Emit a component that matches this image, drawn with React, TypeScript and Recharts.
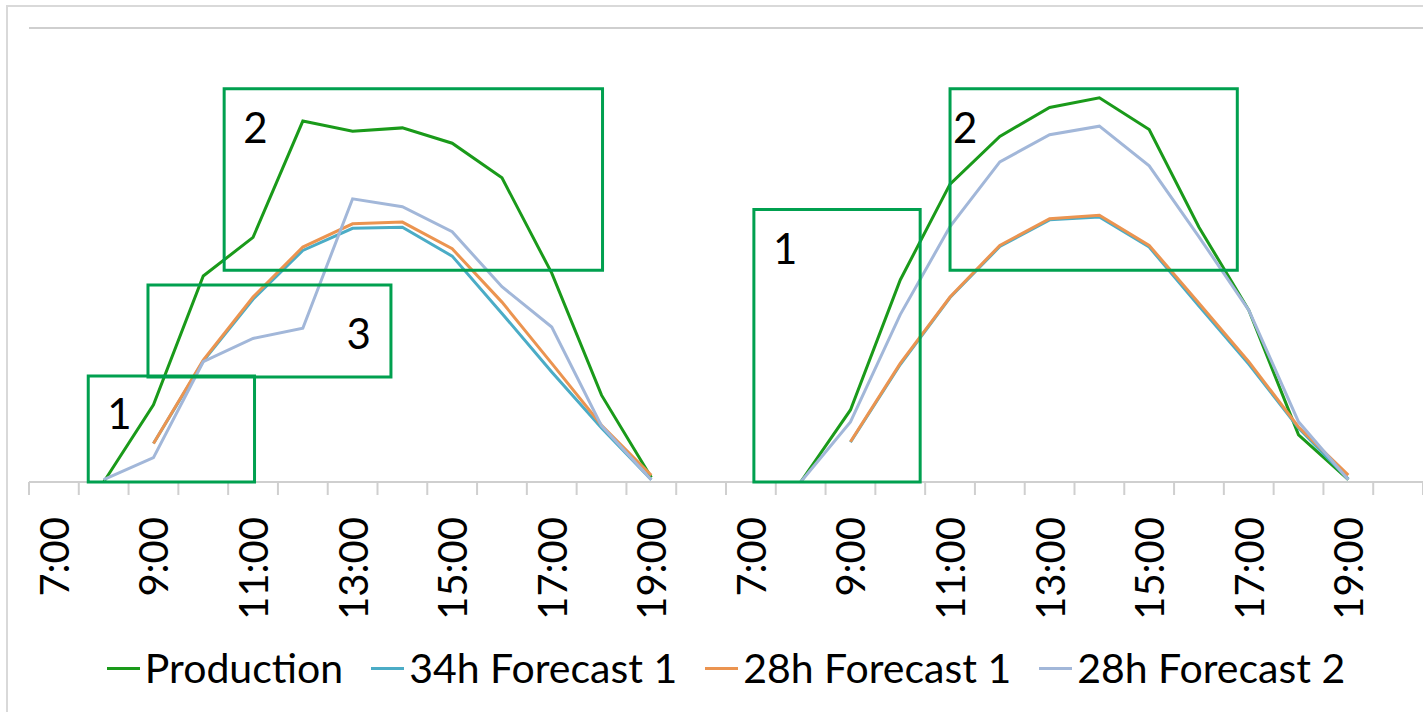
import React from 'react';
import {
  LineChart, Line, XAxis, YAxis, CartesianGrid, Legend, ReferenceArea,
} from 'recharts';

// two days of hourly slots, 7:00 .. 20:00 each
const hours = ['7:00', '8:00', '9:00', '10:00', '11:00', '12:00', '13:00',
  '14:00', '15:00', '16:00', '17:00', '18:00', '19:00', '20:00'];
const times = [...hours, ...hours];

const production = [
  null, 0, 1.36, 3.63, 4.31, 6.36, 6.18, 6.24, 5.97, 5.36, 3.68, 1.53, 0.08, null,
  null, 0, 1.27, 3.56, 5.25, 6.09, 6.6, 6.77, 6.21, 4.49, 3.03, 0.83, 0.04, null,
];
const forecast34h1 = [
  null, null, 0.68, 2.13, 3.22, 4.08, 4.47, 4.49, 3.98, 2.97, 1.94, 0.95, 0.04, null,
  null, null, 0.7, 2.07, 3.25, 4.15, 4.62, 4.67, 4.14, 3.1, 2.08, 0.95, 0.05, null,
];
const forecast28h1 = [
  null, null, 0.68, 2.15, 3.26, 4.14, 4.55, 4.58, 4.11, 3.17, 2.09, 1.0, 0.12, null,
  null, null, 0.71, 2.09, 3.26, 4.17, 4.64, 4.7, 4.17, 3.15, 2.12, 0.97, 0.12, null,
];
const forecast28h2 = [
  null, 0.04, 0.43, 2.12, 2.53, 2.71, 4.99, 4.85, 4.41, 3.44, 2.73, 0.99, 0.04, null,
  null, 0, 1.06, 2.95, 4.5, 5.64, 6.12, 6.27, 5.57, 4.32, 3.03, 1.06, 0.04, null,
];

const yTicks = [0, 1, 2, 3, 4, 5, 6, 7, 8];
const slotTicks = times.map((_, i) => i).concat(times.length);
// label every second hour from 7:00 to 19:00
const labelTicks = times
  .map((_, i) => i)
  .filter(i => (i % 14) % 2 === 0 && i % 14 <= 12)
  .map(i => i + 0.5);

// highlighted regions, in slot / value units
const boxes = [
  { id: 'a', x1: 1.19, x2: 4.53, y1: 0, y2: 1.87, text: '1' },
  { id: 'b', x1: 2.39, x2: 7.27, y1: 1.85, y2: 3.47, text: '3' },
  { id: 'c', x1: 3.92, x2: 11.52, y1: 3.73, y2: 6.93, text: '2' },
  { id: 'd', x1: 14.56, x2: 17.9, y1: 0, y2: 4.8, text: '1' },
  { id: 'e', x1: 18.5, x2: 24.27, y1: 3.73, y2: 6.93, text: '2' },
];
const boxLabelPlacement: Record<string, { corner: 'tl' | 'br'; dx: number; dy: number }> = {
  a: { corner: 'tl', dx: 19, dy: 12 },
  b: { corner: 'br', dx: -20, dy: -19 },
  c: { corner: 'tl', dx: 19, dy: 13 },
  d: { corner: 'tl', dx: 19, dy: 13 },
  e: { corner: 'tl', dx: 3, dy: 13 },
};

const series = [
  { key: 'production', name: 'Production', color: '#1a9a1a' },
  { key: 'forecast34h1', name: '34h Forecast 1', color: '#4bacc6' },
  { key: 'forecast28h1', name: '28h Forecast 1', color: '#eb9450' },
  { key: 'forecast28h2', name: '28h Forecast 2', color: '#a2b7d9' },
];

const data = times.map((t, i) => ({
  pos: i + 0.5,
  time: t,
  production: production[i],
  forecast34h1: forecast34h1[i],
  forecast28h1: forecast28h1[i],
  forecast28h2: forecast28h2[i],
}));

const FONT = 'Lato, "Open Sans", sans-serif';
const GRID = '#cfcfcf';
const BOX = '#00a04f';
const SLOT_AXIS = 'axis0';
const LABEL_AXIS = 'axis1';

function TimeTick({ x, y, payload }: any) {
  const label = times[Math.floor(payload.value)];
  return (
    <text x={x} y={y} transform={`rotate(-90 ${x} ${y})`} textAnchor="end"
      dominantBaseline="central" fontSize={40} fontFamily={FONT} fill="#000">
      {label}
    </text>
  );
}

// slot axis only shows its tick marks
function NoLabel() {
  return <g />;
}

function renderLegend() {
  return (
    <div style={{
      height: 70, paddingTop: 20, boxSizing: 'border-box', display: 'flex',
      justifyContent: 'center', alignItems: 'center', gap: 28, fontFamily: FONT,
    }}>
      {series.map(s => (
        <div key={s.key} style={{ display: 'flex', alignItems: 'center', gap: 5 }}>
          <div style={{ width: 33, height: 3, backgroundColor: s.color }} />
          <span style={{ fontSize: 41, color: '#000', lineHeight: '50px' }}>{s.name}</span>
        </div>
      ))}
    </div>
  );
}

function boxLabel(id: string, text: string) {
  return (props: any) => {
    const vb = props.viewBox;
    if (!vb) return null;
    const p = boxLabelPlacement[id];
    const tl = p.corner === 'tl';
    return (
      <text x={tl ? vb.x + p.dx : vb.x + vb.width + p.dx}
        y={tl ? vb.y + p.dy : vb.y + vb.height + p.dy}
        textAnchor={tl ? 'start' : 'end'}
        dominantBaseline={tl ? 'text-before-edge' : 'text-after-edge'}
        fontSize={42} fontFamily={FONT} fill="#000">
        {text}
      </text>
    );
  };
}

export default function App() {
  return (
    <div style={{
      position: 'absolute', left: 0, top: 0, width: 1423, height: 712,
      background: '#fff', overflow: 'hidden',
    }}>
      <div style={{
        position: 'absolute', left: 6, top: 5, width: 1440, height: 740,
        borderLeft: '2px solid #d9d9d9', borderTop: '2px solid #d9d9d9',
      }} />
      <div style={{ position: 'absolute', left: 0, top: 0 }}>
        <LineChart width={1423} height={712} data={data}
          margin={{ top: 28, right: 0, left: 29, bottom: 19 }}>
          <CartesianGrid vertical={false} stroke={GRID} strokeWidth={2} />
          <YAxis width={0} domain={[0, 8]} ticks={yTicks} tick={false}
            axisLine={false} tickLine={false} />
          <XAxis xAxisId={SLOT_AXIS} type="number" dataKey="pos" domain={[0, 28]}
            ticks={slotTicks} interval={0} tick={<NoLabel />} height={1}
            tickSize={13} axisLine={{ stroke: GRID, strokeWidth: 2 }}
            tickLine={{ stroke: GRID, strokeWidth: 2 }} />
          <XAxis xAxisId={LABEL_AXIS} type="number" dataKey="pos" domain={[0, 28]}
            ticks={labelTicks} interval={0} height={140} tickSize={0} tickMargin={34}
            axisLine={false} tickLine={false} tick={<TimeTick />} />
          <Legend verticalAlign="bottom" content={renderLegend} />
          {series.map(s => (
            <Line key={s.key} xAxisId={SLOT_AXIS} type="linear" dataKey={s.key} name={s.name}
              stroke={s.color} strokeWidth={3} dot={false} activeDot={false}
              isAnimationActive={false} />
          ))}
          {boxes.map(b => (
            <ReferenceArea key={b.id} xAxisId={SLOT_AXIS} x1={b.x1} x2={b.x2} y1={b.y1} y2={b.y2}
              fill="none" fillOpacity={0} stroke={BOX} strokeWidth={3} ifOverflow="visible"
              zIndex={1000} label={boxLabel(b.id, b.text)} />
          ))}
        </LineChart>
      </div>
    </div>
  );
}
